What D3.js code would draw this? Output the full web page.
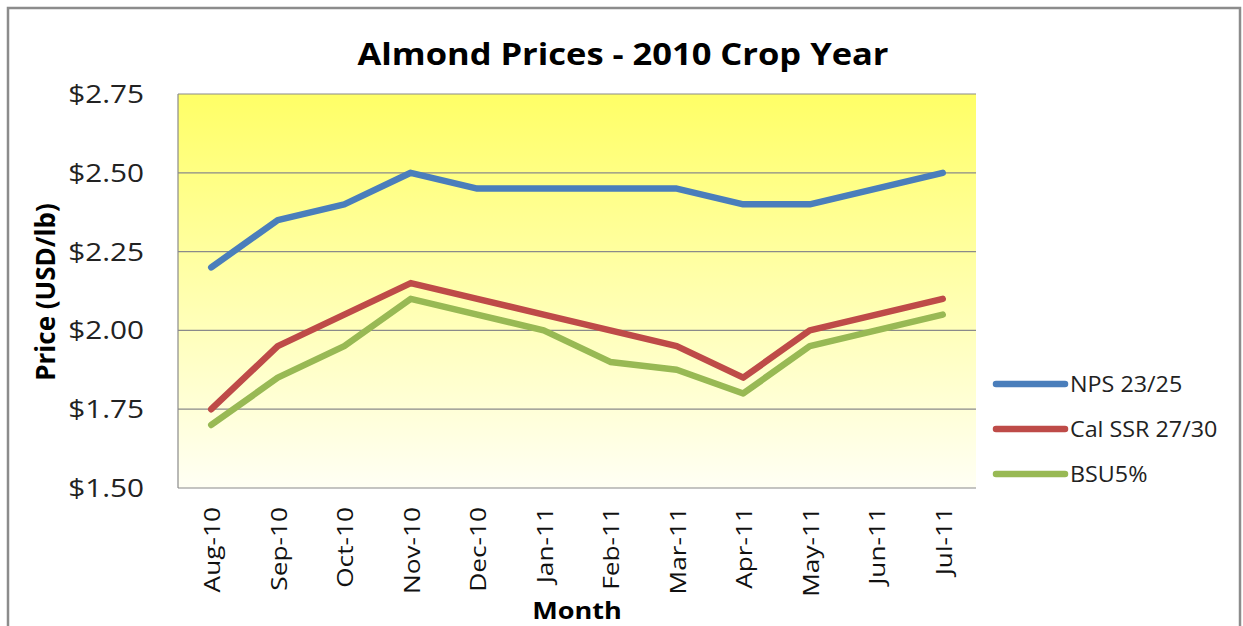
<!DOCTYPE html>
<html lang="en">
<head>
<meta charset="UTF-8">
<title>Almond Prices - 2010 Crop Year</title>
<script src="https://d3js.org/d3.v7.min.js"></script>
<style>
body { margin: 0; background: #fff; }
svg { display: block; font-family: "Open Sans", sans-serif; }
.grid line { stroke: #8a8a8a; stroke-width: 1.2; }
.series { fill: none; stroke-width: 6.5; stroke-linejoin: round; stroke-linecap: round; }
</style>
</head>
<body>
<svg width="1243" height="626"></svg>
<script>
// months on the category axis
const months = ["Aug-10", "Sep-10", "Oct-10", "Nov-10", "Dec-10", "Jan-11",
                "Feb-11", "Mar-11", "Apr-11", "May-11", "Jun-11", "Jul-11"];

// prices, USD per lb
const nps = [2.20, 2.35, 2.40, 2.50, 2.45, 2.45, 2.45, 2.45, 2.40, 2.40, 2.45, 2.50];
const calSsr = [1.75, 1.95, 2.05, 2.15, 2.10, 2.05, 2.00, 1.95, 1.85, 2.00, 2.05, 2.10];
const bsu = [1.70, 1.85, 1.95, 2.10, 2.05, 2.00, 1.90, 1.875, 1.80, 1.95, 2.00, 2.05];

const seriesNames = ["NPS 23/25", "Cal SSR 27/30", "BSU5%"];
const seriesColors = ["#4a7ebb", "#be4b48", "#98b954"];
const yTicks = [1.50, 1.75, 2.00, 2.25, 2.50, 2.75];

const series = [nps, calSsr, bsu].map((values, i) => ({
  name: seriesNames[i], color: seriesColors[i], values: values
}));

const svg = d3.select("svg");
const plot = { left: 178, top: 94, right: 976, bottom: 488 };

// outer chart frame
svg.append("rect")
    .attr("x", 8).attr("y", 8)
    .attr("width", 1232).attr("height", 630)
    .attr("fill", "#fff")
    .attr("stroke", "#8c8c8c")
    .attr("stroke-width", 2.5);

const x = d3.scalePoint()
    .domain(months)
    .range([plot.left, plot.right])
    .padding(0.5);

const y = d3.scaleLinear()
    .domain([1.5, 2.75])
    .range([plot.bottom, plot.top]);

// plot background gradient
const grad = svg.append("defs").append("linearGradient")
    .attr("id", "bg").attr("x1", 0).attr("y1", 0).attr("x2", 0).attr("y2", 1);
grad.append("stop").attr("offset", "0%").attr("stop-color", "#ffff66");
grad.append("stop").attr("offset", "100%").attr("stop-color", "#fffff4");

svg.append("rect")
    .attr("x", plot.left).attr("y", plot.top)
    .attr("width", plot.right - plot.left)
    .attr("height", plot.bottom - plot.top)
    .attr("fill", "url(#bg)");

// horizontal gridlines
svg.append("g")
    .attr("class", "grid")
  .selectAll("line")
  .data(yTicks)
  .enter().append("line")
    .attr("x1", plot.left).attr("x2", plot.right)
    .attr("y1", d => y(d)).attr("y2", d => y(d));

// left axis line
svg.append("line")
    .attr("x1", plot.left).attr("x2", plot.left)
    .attr("y1", plot.top).attr("y2", plot.bottom)
    .attr("stroke", "#8a8a8a").attr("stroke-width", 1.2);

// y tick labels (the original text is a bit stretched sideways)
svg.append("g")
  .selectAll("text")
  .data(yTicks)
  .enter().append("text")
    .attr("transform", d => `translate(144,${y(d)}) scale(1.19,1)`)
    .attr("dy", "0.36em")
    .attr("text-anchor", "end")
    .attr("font-size", 25)
    .attr("fill", "#222")
    .text(d => "$" + d3.format(".2f")(d));

// x tick labels, rotated
svg.append("g")
  .selectAll("text")
  .data(months)
  .enter().append("text")
    .attr("transform", d => `translate(${x(d) + 9},507) rotate(-90) scale(1.25,1)`)
    .attr("text-anchor", "end")
    .attr("font-size", 21)
    .attr("fill", "#111")
    .text(d => d);

// lines
const line = d3.line()
    .x((d, i) => x(months[i]))
    .y(d => y(d));

svg.append("g")
  .selectAll("path")
  .data(series)
  .enter().append("path")
    .attr("class", "series")
    .attr("stroke", d => d.color)
    .attr("d", d => line(d.values));

// title and axis titles
svg.append("text")
    .attr("transform", "translate(623,65) scale(1.15,1)")
    .attr("text-anchor", "middle")
    .attr("font-size", 30)
    .attr("font-weight", "bold")
    .text("Almond Prices - 2010 Crop Year");

svg.append("text")
    .attr("transform", "translate(55,292) rotate(-90)")
    .attr("text-anchor", "middle")
    .attr("font-size", 26)
    .attr("font-weight", "bold")
    .text("Price (USD/lb)");

svg.append("text")
    .attr("transform", "translate(577,619) scale(1.13,1)")
    .attr("text-anchor", "middle")
    .attr("font-size", 24)
    .attr("font-weight", "bold")
    .text("Month");

// legend
const legend = svg.append("g")
  .selectAll("g")
  .data(series)
  .enter().append("g")
    .attr("transform", (d, i) => `translate(996,${384 + i * 45})`);

legend.append("line")
    .attr("x1", 0).attr("x2", 69)
    .attr("stroke", d => d.color)
    .attr("stroke-width", 6.5)
    .attr("stroke-linecap", "round");

legend.append("text")
    .attr("transform", "translate(74,0) scale(1.11,1)")
    .attr("dy", "0.36em")
    .attr("font-size", 21)
    .attr("fill", "#222")
    .text(d => d.name);
</script>
</body>
</html>
